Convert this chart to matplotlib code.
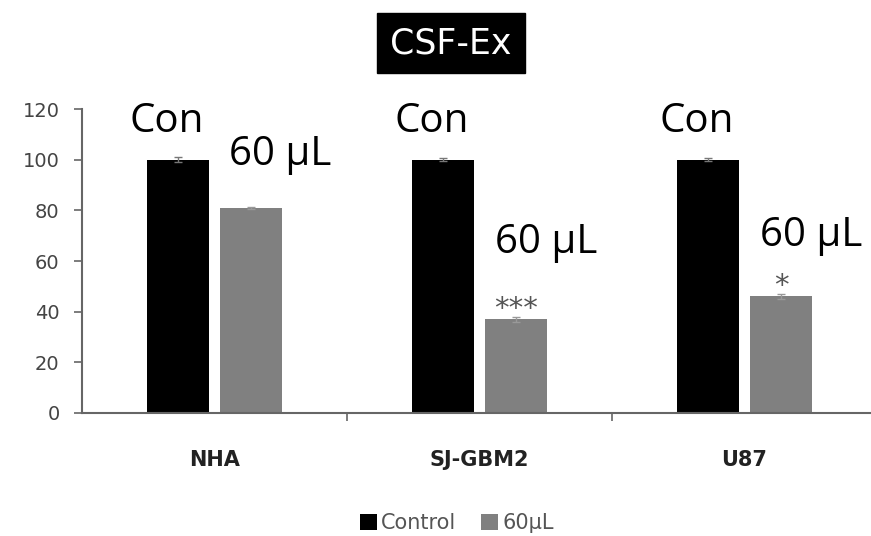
import numpy as np
import matplotlib
matplotlib.use("Agg")
import matplotlib.pyplot as plt
from matplotlib.ticker import FixedLocator

# cell viability (% of control) after CSF exosome treatment
cell_lines = ["NHA", "SJ-GBM2", "U87"]
control_vals = [100, 100, 100]
treated_vals = [81, 37, 46]
control_err = [1.0, 0.5, 0.5]
treated_err = [0.5, 1.0, 1.0]
stars = ["", "***", "*"]
yticks = [0, 20, 40, 60, 80, 100, 120]

fig = plt.figure(figsize=(8.71, 5.36), dpi=100)
ax = fig.add_axes([0.094, 0.2295, 0.906, 0.567])

x = np.arange(len(cell_lines))
width = 0.235
off = 0.138

ax.bar(x - off, control_vals, width, color="#000000", label="Control",
       yerr=control_err, error_kw=dict(ecolor="#777777", elinewidth=1, capsize=3))
ax.bar(x + off, treated_vals, width, color="#808080", label="60µL",
       yerr=treated_err, error_kw=dict(ecolor="#999999", elinewidth=1, capsize=3))

txt_font = "Open Sans"
for i in range(len(cell_lines)):
    ax.text(i - 0.18, 111, "Con", fontsize=29, family=txt_font,
            ha="center", va="baseline")
    ax.text(i + 0.25, treated_vals[i] + 17 + 3 * len(stars[i]), "60 µL",
            fontsize=29, family=txt_font, ha="center", va="baseline")
    if stars[i]:
        ax.text(i + off, treated_vals[i] + treated_err[i] - 2.5, stars[i],
                fontsize=21, color="#555555", ha="center", va="bottom")

ax.set_xlim(-0.5, 2.477)
ax.set_ylim(0, 120)
ax.set_yticks(yticks)
ax.tick_params(axis="y", labelsize=14, labelcolor="#444444", color="#666666",
               length=6, width=1.2, pad=10)

ax.set_xticks(x)
ax.set_xticklabels(cell_lines, fontsize=15, fontweight="bold", color="#222222")
ax.xaxis.set_minor_locator(FixedLocator([0.5, 1.5]))
ax.tick_params(axis="x", which="major", length=0, pad=27)
ax.tick_params(axis="x", which="minor", length=6, width=1.2, color="#666666")

for side in ["top", "right"]:
    ax.spines[side].set_visible(False)
for side in ["left", "bottom"]:
    ax.spines[side].set_color("#666666")
    ax.spines[side].set_linewidth(1.5)

fig.text(451 / 871, 1 - 43 / 536, "CSF-Ex", fontsize=25, color="white",
         ha="center", va="center",
         bbox=dict(boxstyle="square,pad=0.38", facecolor="black", edgecolor="black"))

handles, labels = ax.get_legend_handles_labels()
fig.legend(handles, labels, loc="center", bbox_to_anchor=(457 / 871, 1 - 523 / 536),
           ncol=2, frameon=False, fontsize=15, labelcolor="#555555",
           handlelength=0.8, handleheight=0.8, handletextpad=0.2, columnspacing=1.2)

fig.savefig("out.png", dpi=100)
